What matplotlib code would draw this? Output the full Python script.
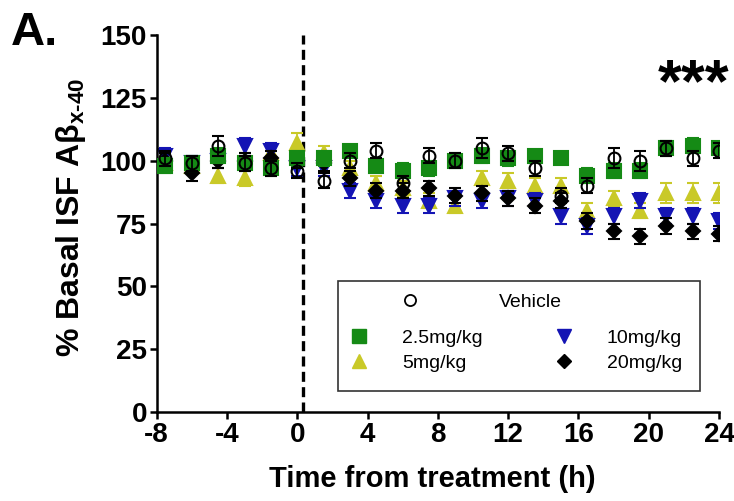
import numpy as np
from matplotlib import pyplot as plt
from matplotlib.lines import Line2D
from matplotlib.patches import Rectangle

plt.rcParams['font.family'] = ['Liberation Sans', 'DejaVu Sans']
plt.rcParams['mathtext.fontset'] = 'custom'
plt.rcParams['mathtext.rm'] = 'Liberation Sans'
plt.rcParams['mathtext.bf'] = 'Liberation Sans:bold'
plt.rcParams['axes.unicode_minus'] = False

# hours from treatment
time = [-7.5, -6, -4.5, -3, -1.5, 0, 1.5, 3, 4.5, 6, 7.5, 9,
        10.5, 12, 13.5, 15, 16.5, 18, 19.5, 21, 22.5, 24]

vehicle = [101, 99, 106, 99, 97, 96, 92, 100, 104, 91, 102, 100,
           105, 103, 97, 86, 90, 101, 100, 105, 101, 104]
vehicle_err = [3, 3, 4, 3, 3, 3, 3, 3, 3, 3, 3, 3,
               4, 3, 3, 3, 3, 4, 4, 3, 3, 3]
dose_25 = [98, 99, 102, 99, 97, 101, 101, 104, 98, 96, 97, 100,
           102, 101, 102, 101, 94, 96, 96, 105, 106, 105]
dose_25_err = [3, 3, 3, 3, 3, 3, 3, 2, 3, 3, 3, 3,
               3, 3, 2, 2, 3, 3, 3, 3, 3, 2]
dose_5 = [99, 98, 94, 93, 103, 107, 103, 97, 91, 89, 84, 82,
          93, 92, 90, 90, 80, 85, 80, 87, 87, 87]
dose_5_err = [3, 3, 3, 3, 3, 4, 3, 3, 3, 3, 3, 3,
              3, 3, 3, 3, 3, 3, 3, 4, 4, 4]
dose_10 = [102, 99, 100, 106, 104, 97, 97, 88, 84, 82, 82, 85,
           84, 85, 84, 78, 74, 78, 84, 78, 78, 76]
dose_10_err = [3, 3, 3, 3, 3, 3, 3, 3, 3, 3, 3, 3,
               3, 3, 3, 3, 3, 3, 3, 3, 3, 3]
dose_20 = [100, 95, 100, 100, 101, 100, 99, 93, 88, 88, 89, 86,
           87, 85, 82, 84, 76, 72, 70, 74, 72, 71]
dose_20_err = [3, 3, 3, 3, 3, 3, 3, 3, 3, 3, 3, 3,
               3, 3, 3, 3, 3, 3, 3, 3, 3, 3]

green = '#158a15'
yellow = '#c9c928'
blue = '#1414b4'

fig = plt.figure(figsize=(7.34, 5.01), dpi=100)
ax = fig.add_axes([0.2135, 0.1776, 0.7661, 0.7525])

ax.axvline(0.33, color='black', lw=2.4, ls=(0, (3, 1.6)), zorder=0)

series = [
    (dose_5, dose_5_err, '^', yellow, yellow, 10, 1),
    (dose_10, dose_10_err, 'v', blue, blue, 10, 2),
    (dose_20, dose_20_err, 'D', 'black', 'black', 7.5, 3),
    (dose_25, dose_25_err, 's', green, green, 9.5, 4),
    (vehicle, vehicle_err, 'o', 'none', 'black', 8.5, 5),
]
for vals, err, mk, fc, ec, ms, z in series:
    ax.errorbar(time, vals, yerr=err, fmt=mk, mfc=fc, mec=ec, ms=ms,
                mew=1.5, ecolor=ec, elinewidth=1.3, capsize=4,
                capthick=1.3, zorder=z)

ax.set_xlim(-8, 24)
ax.set_ylim(0, 150)
ax.set_xticks([-8, -4, 0, 4, 8, 12, 16, 20, 24])
ax.set_yticks([0, 25, 50, 75, 100, 125, 150])
for s in ['top', 'right']:
    ax.spines[s].set_visible(False)
for s in ['left', 'bottom']:
    ax.spines[s].set_linewidth(1.8)
ax.tick_params(width=1.8, length=5, labelsize=20, pad=2)
for lab in ax.get_xticklabels() + ax.get_yticklabels():
    lab.set_fontweight('bold')

ax.set_xlabel('Time from treatment (h)', fontsize=21, fontweight='bold')
ax.set_ylabel('% Basal ISF Aβ$_{\\mathbf{x\u201040}}$', fontsize=23, fontweight='bold')
ax.xaxis.set_label_coords(0.49, -0.14)
ax.yaxis.set_label_coords(-0.122, 0.517)

fig.text(0.015, 0.91, 'A.', fontsize=34, fontweight='bold')
ax.text(0.955, 0.865, '***', transform=ax.transAxes, fontsize=44,
        fontweight='bold', ha='center', va='center')

# legend
ax.add_patch(Rectangle((0.3224, 0.0557), 0.6438, 0.292, transform=ax.transAxes,
                       fill=False, lw=1.2, ec='#333333', clip_on=False, zorder=6))
h_veh = Line2D([], [], ls='none', marker='o', mfc='none', mec='black', ms=8, mew=1.3)
leg1 = ax.legend([h_veh], ['Vehicle'], loc='center left', bbox_to_anchor=(0.415, 0.292),
                 frameon=False, fontsize=14, handletextpad=3.6, borderpad=0,
                 borderaxespad=0)
ax.add_artist(leg1)
h25 = Line2D([], [], ls='none', marker='s', color=green, ms=10)
h5 = Line2D([], [], ls='none', marker='^', color=yellow, ms=10)
h10 = Line2D([], [], ls='none', marker='v', color=blue, ms=10)
h20 = Line2D([], [], ls='none', marker='D', color='black', ms=7)
ax.legend([h25, h5, h10, h20], ['2.5mg/kg', '5mg/kg', '10mg/kg', '20mg/kg'],
          ncol=2, loc='upper left', bbox_to_anchor=(0.326, 0.22, 0.608, 0),
          mode='expand', frameon=False, fontsize=14, handletextpad=1.2,
          labelspacing=0.4, borderpad=0, borderaxespad=0)

fig.savefig('out.png', dpi=100)
